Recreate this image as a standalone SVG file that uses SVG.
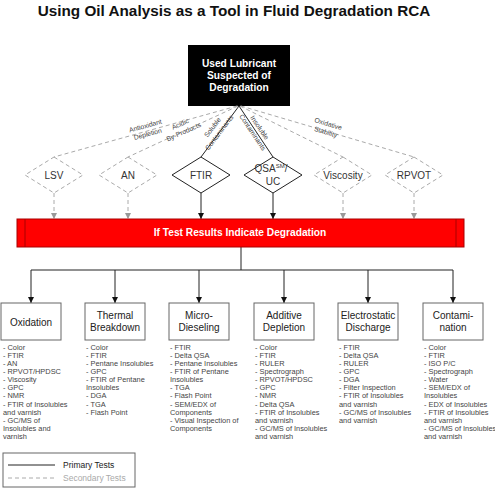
<svg xmlns="http://www.w3.org/2000/svg" width="495" height="488" viewBox="0 0 495 488">
<defs>
<marker id="ab" viewBox="0 0 10 10" refX="10" refY="5" markerWidth="6" markerHeight="6" markerUnits="userSpaceOnUse" orient="auto"><path d="M0,0 L10,5 L0,10 z" fill="#111"/></marker>
<marker id="ag" viewBox="0 0 10 10" refX="10" refY="5" markerWidth="6" markerHeight="6" markerUnits="userSpaceOnUse" orient="auto"><path d="M0,0 L10,5 L0,10 z" fill="#999"/></marker>
<style>
text{font-family:"Liberation Sans",Arial,sans-serif}
.title{font-size:15.3px;font-weight:bold;fill:#111;text-anchor:middle}
.top{font-size:10.2px;font-weight:bold;fill:#fff;text-anchor:middle}
.sol{fill:none;stroke:#222;stroke-width:1}
.dash{fill:none;stroke:#aaa;stroke-width:1;stroke-dasharray:4 3}
.dl{font-size:10px;fill:#333;text-anchor:middle}
.cl{font-size:6.8px;fill:#444;text-anchor:middle}
.box{fill:#fff;stroke:#666;stroke-width:1}
.bl{font-size:10px;fill:#222;text-anchor:middle}
.li{font-size:7.4px;fill:#444}
.lg{font-size:8.5px;fill:#222}
</style>
</defs>
<text class="title" x="234" y="16">Using Oil Analysis as a Tool in Fluid Degradation RCA</text>
<g id="start">
<rect x="188" y="45" width="102" height="61" fill="#000"/>
<text class="top" x="239" y="66.5">Used Lubricant</text>
<text class="top" x="239" y="78.5">Suspected of</text>
<text class="top" x="239" y="90.5">Degradation</text>
</g>
<g id="connectors">
<line class="dash" x1="237" y1="106" x2="54" y2="157"/>
<line class="dash" x1="238" y1="106" x2="128" y2="157"/>
<line class="sol" x1="239" y1="106" x2="201" y2="157"/>
<line class="sol" x1="239" y1="106" x2="273" y2="157"/>
<line class="dash" x1="240" y1="106" x2="343" y2="157"/>
<line class="dash" x1="241" y1="106" x2="414" y2="157"/>
<line class="dash" x1="54" y1="193" x2="54" y2="219" marker-end="url(#ag)"/>
<line class="dash" x1="128" y1="193" x2="128" y2="219" marker-end="url(#ag)"/>
<line class="sol" x1="201" y1="193" x2="201" y2="219" marker-end="url(#ab)"/>
<line class="sol" x1="273" y1="193" x2="273" y2="219" marker-end="url(#ab)"/>
<line class="dash" x1="343" y1="193" x2="343" y2="219" marker-end="url(#ag)"/>
<line class="dash" x1="414" y1="193" x2="414" y2="219" marker-end="url(#ag)"/>
<polyline class="sol" points="241,247 241,270"/>
<line class="sol" x1="31" y1="270" x2="453" y2="270"/>
<line class="sol" x1="31" y1="270" x2="31" y2="303" marker-end="url(#ab)"/>
<line class="sol" x1="115" y1="270" x2="115" y2="303" marker-end="url(#ab)"/>
<line class="sol" x1="199" y1="270" x2="199" y2="303" marker-end="url(#ab)"/>
<line class="sol" x1="284" y1="270" x2="284" y2="303" marker-end="url(#ab)"/>
<line class="sol" x1="368" y1="270" x2="368" y2="303" marker-end="url(#ab)"/>
<line class="sol" x1="453" y1="270" x2="453" y2="303" marker-end="url(#ab)"/>
<g transform="translate(146.5,130) rotate(-15.5)"><text class="cl" x="0" y="-2">Antioxidant</text><text class="cl" x="0" y="6.5">Depletion</text></g>
<g transform="translate(182,128) rotate(-24)"><text class="cl" x="0" y="-2">Acidic</text><text class="cl" x="0" y="6.5">By-Products</text></g>
<g transform="translate(216,130) rotate(-53)"><text class="cl" x="0" y="-2">Soluble</text><text class="cl" x="0" y="6.5">Contaminants</text></g>
<g transform="translate(256,130) rotate(56)"><text class="cl" x="0" y="-2">Insoluble</text><text class="cl" x="0" y="6.5">Contaminants</text></g>
<g transform="translate(327,128) rotate(17)"><text class="cl" x="0" y="-2">Oxidative</text><text class="cl" x="0" y="6.5">Stability</text></g>
</g>
<g id="lsv"><polygon class="dash" points="54,157 83,175 54,193 25,175"/><text class="dl" x="54" y="178.6">LSV</text></g>
<g id="an"><polygon class="dash" points="128,157 157,175 128,193 99,175"/><text class="dl" x="128" y="178.6">AN</text></g>
<g id="ftir"><polygon class="sol" points="201,157 230,175 201,193 172,175" fill="#fff"/><text class="dl" x="201" y="178.6">FTIR</text></g>
<g id="qsa"><polygon class="sol" points="273,157 302,175 273,193 244,175" fill="#fff"/><text class="dl" x="271" y="171.5">QSA<tspan font-size="6" dy="-4">SM</tspan><tspan dy="4">/</tspan></text><text class="dl" x="273" y="184.5">UC</text></g>
<g id="viscosity"><polygon class="dash" points="343,157 372,175 343,193 314,175"/><text class="dl" x="343" y="178.6">Viscosity</text></g>
<g id="rpvot"><polygon class="dash" points="414,157 443,175 414,193 385,175"/><text class="dl" x="414" y="178.6">RPVOT</text></g>
<g id="degradation">
<rect x="17" y="219" width="447" height="28" fill="#f00" stroke="#a00" stroke-width="1"/>
<line x1="25" y1="219" x2="25" y2="247" stroke="#a00"/>
<line x1="456" y1="219" x2="456" y2="247" stroke="#a00"/>
<text x="240" y="236" font-size="10.2" font-weight="bold" fill="#fff" text-anchor="middle">If Test Results Indicate Degradation</text>
</g>
<g id="oxidation">
<rect class="box" x="1" y="303" width="60" height="37"/>
<text class="bl" x="31" y="325.5">Oxidation</text>
<text class="li" x="3" y="349.5"><tspan x="3">- Color</tspan><tspan x="3" dy="8.15">- FTIR</tspan><tspan x="3" dy="8.15">- AN</tspan><tspan x="3" dy="8.15">- RPVOT/HPDSC</tspan><tspan x="3" dy="8.15">- Viscosity</tspan><tspan x="3" dy="8.15">- GPC</tspan><tspan x="3" dy="8.15">- NMR</tspan><tspan x="3" dy="8.15">- FTIR of Insolubles</tspan><tspan x="3" dy="8.15">and varnish</tspan><tspan x="3" dy="8.15">- GC/MS of</tspan><tspan x="3" dy="8.15">Insolubles and</tspan><tspan x="3" dy="8.15">varnish</tspan></text>
</g>
<g id="thermal">
<rect class="box" x="85" y="303" width="60" height="37"/>
<text class="bl" x="115" y="318.6">Thermal</text><text class="bl" x="115" y="330.6">Breakdown</text>
<text class="li" x="86" y="349.5"><tspan x="86">- Color</tspan><tspan x="86" dy="8.15">- FTIR</tspan><tspan x="86" dy="8.15">- Pentane Insolubles</tspan><tspan x="86" dy="8.15">- GPC</tspan><tspan x="86" dy="8.15">- FTIR of Pentane</tspan><tspan x="86" dy="8.15">Insolubles</tspan><tspan x="86" dy="8.15">- DGA</tspan><tspan x="86" dy="8.15">- TGA</tspan><tspan x="86" dy="8.15">- Flash Point</tspan></text>
</g>
<g id="microdieseling">
<rect class="box" x="169" y="303" width="60" height="37"/>
<text class="bl" x="199" y="318.6">Micro-</text><text class="bl" x="199" y="330.6">Dieseling</text>
<text class="li" x="170" y="349.5"><tspan x="170">- FTIR</tspan><tspan x="170" dy="8.15">- Delta QSA</tspan><tspan x="170" dy="8.15">- Pentane Insolubles</tspan><tspan x="170" dy="8.15">- FTIR of Pentane</tspan><tspan x="170" dy="8.15">Insolubles</tspan><tspan x="170" dy="8.15">- TGA</tspan><tspan x="170" dy="8.15">- Flash Point</tspan><tspan x="170" dy="8.15">- SEM/EDX of</tspan><tspan x="170" dy="8.15">Components</tspan><tspan x="170" dy="8.15">- Visual Inspection of</tspan><tspan x="170" dy="8.15">Components</tspan></text>
</g>
<g id="additive">
<rect class="box" x="254" y="303" width="60" height="37"/>
<text class="bl" x="284" y="318.6">Additive</text><text class="bl" x="284" y="330.6">Depletion</text>
<text class="li" x="255" y="349.5"><tspan x="255">- Color</tspan><tspan x="255" dy="8.15">- FTIR</tspan><tspan x="255" dy="8.15">- RULER</tspan><tspan x="255" dy="8.15">- Spectrograph</tspan><tspan x="255" dy="8.15">- RPVOT/HPDSC</tspan><tspan x="255" dy="8.15">- GPC</tspan><tspan x="255" dy="8.15">- NMR</tspan><tspan x="255" dy="8.15">- Delta QSA</tspan><tspan x="255" dy="8.15">- FTIR of Insolubles</tspan><tspan x="255" dy="8.15">and varnish</tspan><tspan x="255" dy="8.15">- GC/MS of Insolubles</tspan><tspan x="255" dy="8.15">and varnish</tspan></text>
</g>
<g id="electrostatic">
<rect class="box" x="338" y="303" width="60" height="37"/>
<text class="bl" x="368" y="318.6">Electrostatic</text><text class="bl" x="368" y="330.6">Discharge</text>
<text class="li" x="339" y="349.5"><tspan x="339">- FTIR</tspan><tspan x="339" dy="8.15">- Delta QSA</tspan><tspan x="339" dy="8.15">- RULER</tspan><tspan x="339" dy="8.15">- GPC</tspan><tspan x="339" dy="8.15">- DGA</tspan><tspan x="339" dy="8.15">- Filter Inspection</tspan><tspan x="339" dy="8.15">- FTIR of Insolubles</tspan><tspan x="339" dy="8.15">and varnish</tspan><tspan x="339" dy="8.15">- GC/MS of Insolubles</tspan><tspan x="339" dy="8.15">and varnish</tspan></text>
</g>
<g id="contamination">
<rect class="box" x="423" y="303" width="60" height="37"/>
<text class="bl" x="453" y="318.6">Contami-</text><text class="bl" x="453" y="330.6">nation</text>
<text class="li" x="424" y="349.5"><tspan x="424">- Color</tspan><tspan x="424" dy="8.15">- FTIR</tspan><tspan x="424" dy="8.15">- ISO P/C</tspan><tspan x="424" dy="8.15">- Spectrograph</tspan><tspan x="424" dy="8.15">- Water</tspan><tspan x="424" dy="8.15">- SEM/EDX of</tspan><tspan x="424" dy="8.15">Insolubles</tspan><tspan x="424" dy="8.15">- EDX of Insolubles</tspan><tspan x="424" dy="8.15">- FTIR of Insolubles</tspan><tspan x="424" dy="8.15">and varnish</tspan><tspan x="424" dy="8.15">- GC/MS of Insolubles</tspan><tspan x="424" dy="8.15">and varnish</tspan></text>
</g>
<g id="legend">
<rect x="3" y="453" width="132" height="34" fill="#fff" stroke="#666"/>
<line x1="8" y1="465" x2="55" y2="465" stroke="#222"/>
<line class="dash" x1="8" y1="478" x2="55" y2="478"/>
<text class="lg" x="63" y="468">Primary Tests</text>
<text class="lg" x="63" y="481" style="fill:#aaa">Secondary Tests</text>
</g>
</svg>
